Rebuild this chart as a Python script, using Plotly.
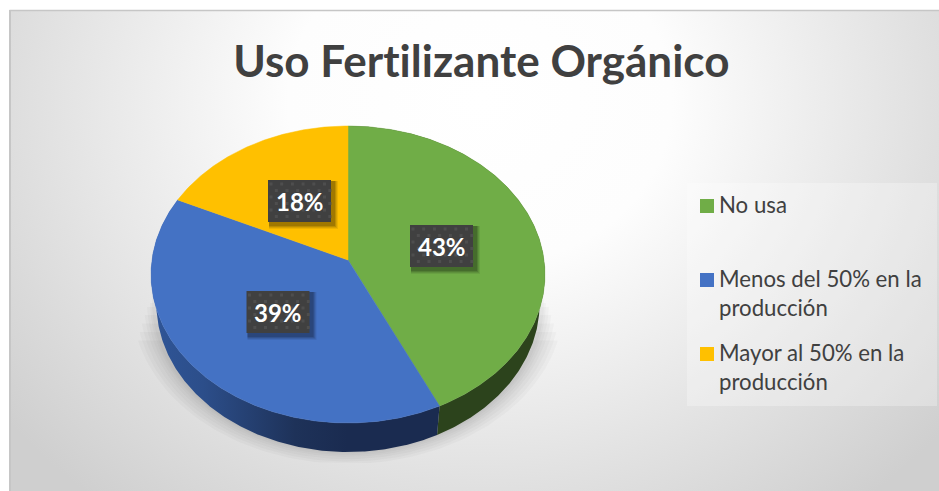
import numpy as np
import plotly.graph_objects as go

# ---- data ----
title_text = "Uso Fertilizante Orgánico"
categories = ["No usa", "Menos del 50% en la<br>producción", "Mayor al 50% en la<br>producción"]
values = [43, 39, 18]
top_colors = ["#70AD47", "#4472C4", "#FFC000"]

W, H = 939, 491
FONT = "Lato, Carlito, 'Open Sans', sans-serif"
INK = "#404040"

# ---- projection of the tilted pie (pixel axes) ----
CX, K, BY, C0, AX = 348.0, 0.0976, 121.7, 260.0, 196.0
DEPTH, BASE_SCALE = 29.0, 0.973


def rim(theta_deg, depth=0.0, scale=1.0):
    t = np.radians(np.asarray(theta_deg, dtype=float))
    u, v = np.sin(t), -np.cos(t)
    w = 1 - K * v
    return CX + scale * AX * u / w, (BY * v + C0) / w + depth


def arc(a, b):
    return np.linspace(a, b, max(8, int(abs(b - a) * 2)))


fig = go.Figure()

# background: radial gradient on a rectangle larger than the page so that its centre sits off-centre
GX, GY, GRX, GRY = 480, 100, 600, 520
fig.add_trace(go.Scatter(
    x=[GX - GRX, GX + GRX, GX + GRX, GX - GRX, GX - GRX],
    y=[GY - GRY, GY - GRY, GY + GRY, GY + GRY, GY - GRY],
    mode="lines", line=dict(width=0, simplify=False), fill="toself", hoverinfo="skip",
    showlegend=False,
    fillgradient=dict(type="radial", colorscale=[[0, "#ffffff"], [0.32, "#fdfdfd"], [1, "#cfcfcf"]]),
))

# soft shadow beneath the pie
for grow, top in zip([20, 16, 12, 8, 5, 2, 0], [338, 330, 322, 314, 306, 300, 296]):
    t = np.linspace(0, 360, 241)
    x = CX + (AX + grow) * np.sin(t * np.pi / 180)
    y = 303 - (149 + grow * 0.6) * np.cos(t * np.pi / 180)
    y = np.minimum(y, 463)
    keep = y >= top
    fig.add_trace(go.Scatter(x=x[keep], y=y[keep], mode="lines", line=dict(width=0), fill="toself",
                             fillcolor="rgba(0,0,0,0.022)", hoverinfo="skip", showlegend=False))

angles = np.cumsum([0] + values) * 3.6

# pie wall: green and blue parts
wall_styles = [
    [[0, "#2C431C"], [1, "#2C431C"]],
    [[0, "#2F5597"], [0.18, "#2C4E8A"], [0.5, "#1E3259"], [0.68, "#1A2B50"], [1, "#1A2B50"]],
]
for i in (0, 1):
    a = arc(angles[i], angles[i + 1])
    xt, yt = rim(a)
    xb, yb = rim(a, DEPTH, BASE_SCALE)
    fig.add_trace(go.Scatter(
        x=np.r_[xt, xb[::-1], xt[0]], y=np.r_[yt, yb[::-1], yt[0]],
        mode="lines", line=dict(width=0), fill="toself", hoverinfo="skip", showlegend=False,
        fillgradient=dict(type="horizontal", colorscale=wall_styles[i]),
    ))

# pie top: one wedge per category, apex at the projected centre
for i, (name, val, col) in enumerate(zip(categories, values, top_colors)):
    xr, yr = rim(arc(angles[i], angles[i + 1]))
    ax, ay = CX, C0
    fig.add_trace(go.Scatter(
        x=np.r_[ax, xr, ax], y=np.r_[ay, yr, ay], mode="lines",
        line=dict(width=0.5, color=col), fill="toself", fillcolor=col,
        name=name.replace("<br>", " "), text=f"{val}%", hoverinfo="name+text", showlegend=False,
    ))

# percentage labels: soft shadow, dark box, dotted texture, text
box_centres = [(441.5, 246), (278, 312), (299.5, 201)]
BW, BH = 63, 42
for (bx, by), val in zip(box_centres, values):
    for d, alpha in [(7, 0.07), (6, 0.09), (5, 0.12), (4, 0.15)]:
        x0, x1, y0, y1 = bx - BW / 2 + 1, bx + BW / 2 + d, by - BH / 2 + 1, by + BH / 2 + d
        fig.add_trace(go.Scatter(x=[x0, x1, x1, x0, x0], y=[y0, y0, y1, y1, y0], mode="lines",
                                 line=dict(width=0), fill="toself", fillcolor=f"rgba(0,0,0,{alpha})",
                                 hoverinfo="skip", showlegend=False))
    x0, x1, y0, y1 = bx - BW / 2, bx + BW / 2, by - BH / 2, by + BH / 2
    fig.add_trace(go.Scatter(x=[x0, x1, x1, x0, x0], y=[y0, y0, y1, y1, y0], mode="lines",
                             line=dict(width=0), fill="toself", fillcolor="#404040",
                             hoverinfo="skip", showlegend=False))
    gx, gy = [], []
    for r, yy in enumerate(np.arange(y0 + 4, y1, 6.5)):
        for xx in np.arange(x0 + (3 if r % 2 == 0 else 8.3), x1 - 1, 10.7):
            gx.append(xx)
            gy.append(yy)
    fig.add_trace(go.Scatter(x=gx, y=gy, mode="markers", hoverinfo="skip", showlegend=False,
                             marker=dict(symbol="square", size=3, color="#4E4E4E", line=dict(width=0))))

annotations = [dict(x=481.5, y=60, text=f"<b>{title_text}</b>", font=dict(family=FONT, size=44, color=INK),
                    showarrow=False, xanchor="center", yanchor="middle")]
for (bx, by), val in zip(box_centres, values):
    annotations.append(dict(x=bx, y=by, text=f"<b>{val}%</b>", font=dict(family=FONT, size=24, color="white"),
                            showarrow=False, xanchor="center", yanchor="middle"))

# legend: panel, swatches, text
legend_y = [206, 280, 354]
legend_text_y = [204, 293, 367]
shapes = [
    dict(type="rect", x0=687, x1=937, y0=183, y1=406, line_width=0, fillcolor="rgba(255,255,255,0.28)", layer="above"),
]
for y, ty, name, col in zip(legend_y, legend_text_y, categories, top_colors):
    shapes.append(dict(type="rect", x0=700, x1=714, y0=y - 7, y1=y + 7, line_width=0, fillcolor=col, layer="above"))
    annotations.append(dict(x=717, y=ty, text=name, font=dict(family=FONT, size=22.2, color=INK), align="left",
                            showarrow=False, xanchor="left", yanchor="middle"))

# frame edges
shapes += [
    dict(type="rect", x0=0, x1=W, y0=0, y1=10, line_width=0, fillcolor="white", layer="above"),
    dict(type="rect", x0=0, x1=9, y0=0, y1=H, line_width=0, fillcolor="white", layer="above"),
    dict(type="line", x0=9.5, x1=W, y0=10.5, y1=10.5, line=dict(color="#C6C6C6", width=1.5), layer="above"),
    dict(type="line", x0=10, x1=10, y0=10, y1=H, line=dict(color="#C6C6C6", width=2), layer="above"),
]

fig.update_layout(
    width=W, height=H, margin=dict(l=0, r=0, t=0, b=0), paper_bgcolor="white", plot_bgcolor="white",
    xaxis=dict(range=[0, W], visible=False, fixedrange=True),
    yaxis=dict(range=[H, 0], visible=False, fixedrange=True),
    showlegend=False, annotations=annotations, shapes=shapes,
)
fig.write_html(
    "out.html", config=dict(displayModeBar=False),
    post_script=(
        "document.body.style.margin='0';document.body.style.overflow='hidden';"
        "var s=document.createElement('style');s.textContent='svg text{font-variant-ligatures:none;letter-spacing:0.01px}';"
        "document.head.appendChild(s);"
    ),
)
